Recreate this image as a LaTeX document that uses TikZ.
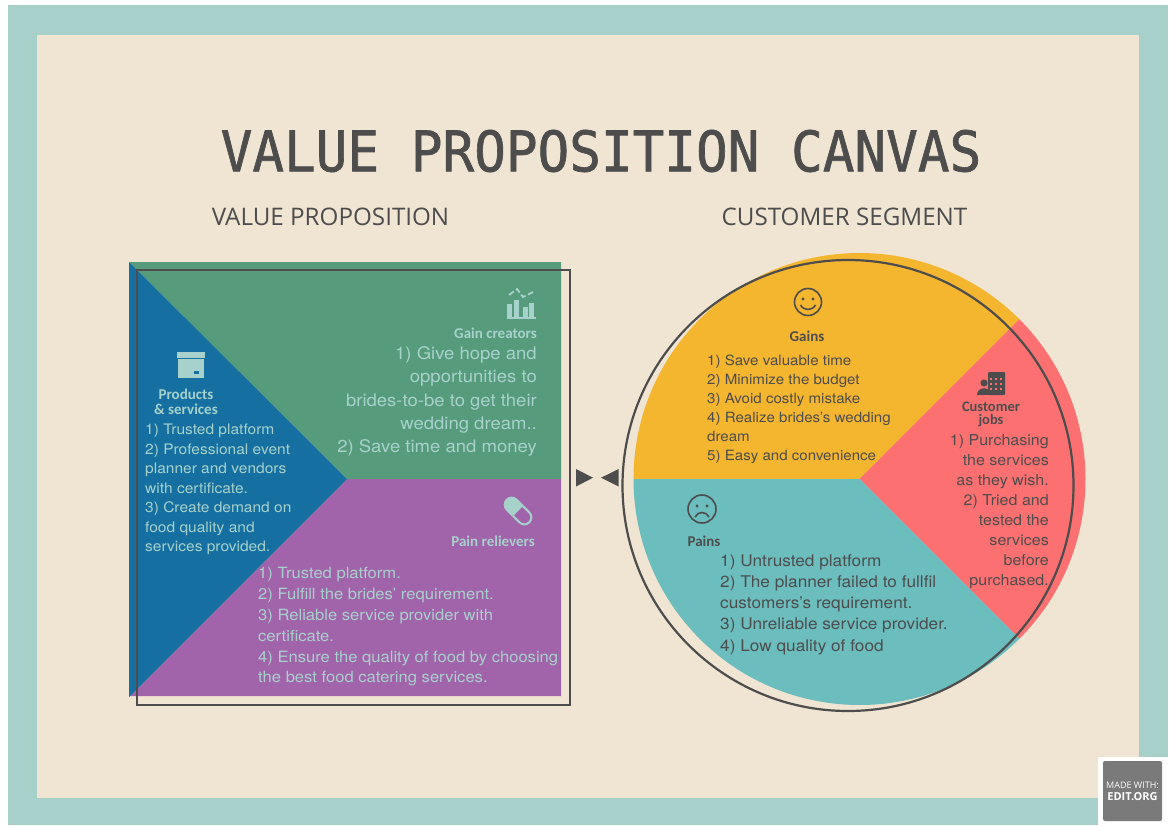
\documentclass[tikz,border=0pt]{standalone}
\usepackage{xcolor}
\usepackage{fontspec}
\setmainfont[FakeStretch=1.07]{TeX Gyre Heros}
\newfontfamily\titlefont[FakeBold=1.2]{DejaVu Sans Mono}
\newfontfamily\headfont{Open Sans}
\newfontfamily\labelfont{Carlito}
\definecolor{frameteal}{HTML}{A8D0CB}
\definecolor{paper}{HTML}{F0E5D3}
\definecolor{ink}{HTML}{4D4D4D}
\definecolor{pale}{HTML}{A7D1CB}
\definecolor{boxblue}{HTML}{1570A1}
\definecolor{boxgreen}{HTML}{579B7D}
\definecolor{boxpurple}{HTML}{A163A9}
\definecolor{pieyellow}{HTML}{F4B52F}
\definecolor{piered}{HTML}{FC7072}
\definecolor{pieteal}{HTML}{6CBDBE}
\definecolor{badge}{HTML}{7A7A7A}
\tikzset{head/.style={font=\headfont\fontsize{24.2}{28}\selectfont,text=ink,inner sep=0pt},
         label/.style={font=\labelfont\fontsize{15}{15}\selectfont\bfseries,inner sep=0pt,align=center},
         body/.style={inner sep=0pt}}
\begin{document}
\begin{tikzpicture}[x=1pt,y=-1pt]
\useasboundingbox (0,0) rectangle (1172,825);
\fill[white] (0,0) rectangle (1172,825);
\fill[frameteal] (8,5) rectangle (1168,825);
\fill[paper] (37,35) rectangle (1139,798);
% headings
\node[font=\titlefont\fontsize{56}{62}\selectfont,text=ink,inner sep=0pt,xscale=0.94] (title) at (601,151) {VALUE PROPOSITION CANVAS};
\node[head] (valuehead) at (330.5,217) {VALUE PROPOSITION};
\node[head] (customerhead) at (844.5,217) {CUSTOMER SEGMENT};
% value square
\fill[boxgreen] (129,262)--(561,262)--(561,479)--(347,479)--cycle;
\fill[boxpurple] (347,479)--(561,479)--(561,696)--(130,696)--cycle;
\fill[boxblue] (129,262)--(347,479)--(129,697)--cycle;
\draw[ink,line width=2.8pt] (137,270) rectangle (570,705);
% customer pie
\fill[pieyellow] (859.5,479)--++(180:226) arc[start angle=180,end angle=315,radius=226]--cycle;
\fill[piered] (859.5,479)--++(-45:226) arc[start angle=-45,end angle=45,radius=226]--cycle;
\fill[pieteal] (859.5,479)--++(45:226) arc[start angle=45,end angle=180,radius=226]--cycle;
\draw[ink,line width=2.2pt] (848,485.5) circle[radius=225.5];
% the two triangles
\fill[ink] (576,469)--(593,477.7)--(576,486.5)--cycle;
\fill[ink] (618.7,469)--(601,477.7)--(618.7,486.5)--cycle;
% box icon
\fill[pale] (177,352) rectangle (205,358);
\fill[pale] (178,359) rectangle (204,378);
\fill[boxblue] (194,371) rectangle (199,373.5);
% chart icon
\fill[pale] (507,317) rectangle (536,318.5);
\foreach \x/\t in {507/304,514/300,523/307,529/303}
  \fill[pale] (\x,\t) rectangle (\x+5,317);
\draw[pale,line width=1.8pt,dash pattern=on 6pt off 2.5pt] (509,295)--(517,289)--(523,297)--(533,292);
% pill icon
\begin{scope}[shift={(518,511)},rotate=-45]
\draw[pale,line width=2pt] (0,-7)--(9,-7) arc[start angle=-90,end angle=90,radius=7]--(0,7);
\fill[pale] (0,-8)--(0,8)--(-9,8) arc[start angle=90,end angle=270,radius=8]--cycle;
\end{scope}
% smile icon
\draw[ink,line width=1.6pt] (808,302) circle[radius=13.5];
\fill[ink] (803,299) circle[radius=1.6] (813,299) circle[radius=1.6];
\draw[ink,line width=1.6pt] (800.5,305) .. controls (804,311) and (812,311) .. (815.5,305);
% frown icon
\draw[ink,line width=1.6pt] (702,509) circle[radius=14];
\fill[ink] (697,506) circle[radius=1.6] (707,506) circle[radius=1.6];
\draw[ink,line width=1.6pt] (695,517) .. controls (698,511) and (706,511) .. (709,517);
% customer icon
\fill[ink,rounded corners=1pt] (988,372) rectangle (1005,395);
\foreach \x in {991,996,1001}
  \foreach \y in {379,384,389}
    \fill[piered] (\x-1,\y-1) rectangle (\x+1,\y+1);
\fill[piered] (984.5,376) rectangle (988,396);
\fill[ink] (984,383) circle[radius=3.6];
\fill[ink] (977,395) .. controls (977,386) and (991,386) .. (991,395)--cycle;
% labels
\node[label,text=pale] (products) at (186,401.5) {Products\\\& services};
\node[label,text=pale,anchor=east] (gaincreators) at (537,333) {Gain creators};
\node[label,text=pale,anchor=east] (painrelievers) at (535,541) {Pain relievers};
\node[label,text=ink] (gains) at (807,336) {Gains};
\node[label,text=ink,font=\labelfont\fontsize{14.5}{13.5}\selectfont\bfseries] (customerjobs) at (991,414.5) {Customer\\jobs};
\node[label,text=ink] (pains) at (704,541) {Pains};
% lists
\node[body,text=pale,align=left,anchor=west,font=\fontsize{14.5}{19.5}\selectfont] (productslist) at (145,489.5)
  {1) Trusted platform\\2) Professional event\\planner and vendors\\with certificate.\\3) Create demand on\\food quality and\\services provided.};
\node[body,text=pale,align=right,anchor=east,font=\fontsize{17.3}{23.3}\selectfont] (gainlist) at (537,401.5)
  {1) Give hope and\\opportunities to\\brides-to-be to get their\\wedding dream..\\2) Save time and money};
\node[body,text=pale,align=left,anchor=west,font=\fontsize{15.5}{20.8}\selectfont] (painlist) at (258,627)
  {1) Trusted platform.\\2) Fulfill the brides' requirement.\\3) Reliable service provider with\\certificate.\\4) Ensure the quality of food by choosing\\the best food catering services.};
\node[body,text=ink,align=left,anchor=west,font=\fontsize{14.1}{19}\selectfont] (gainslist) at (707,409.5)
  {1) Save valuable time\\2) Minimize the budget\\3) Avoid costly mistake\\4) Realize brides's wedding\\dream\\5) Easy and convenience};
\node[body,text=ink,align=right,anchor=east,font=\fontsize{15}{20}\selectfont] (jobslist) at (1049,512)
  {1) Purchasing\\the services\\as they wish.\\2) Tried and\\tested the\\services\\before\\purchased.};
\node[body,text=ink,align=left,anchor=west,font=\fontsize{16.1}{21.3}\selectfont] (painslist) at (720,604.5)
  {1) Untrusted platform\\2) The planner failed to fullfil\\customers's requirement.\\3) Unreliable service provider.\\4) Low quality of food};
% badge
\fill[white] (1098,757) rectangle (1168,825);
\fill[badge,rounded corners=2pt] (1103,761) rectangle (1162,821);
\node[font=\headfont\fontsize{9}{10}\selectfont,text=white,inner sep=0pt] (madewith) at (1132.5,785) {MADE WITH:};
\node[font=\headfont\fontsize{11}{12}\selectfont\bfseries,text=white,inner sep=0pt] (editorg) at (1132.5,797) {EDIT.ORG};
\end{tikzpicture}
\end{document}
